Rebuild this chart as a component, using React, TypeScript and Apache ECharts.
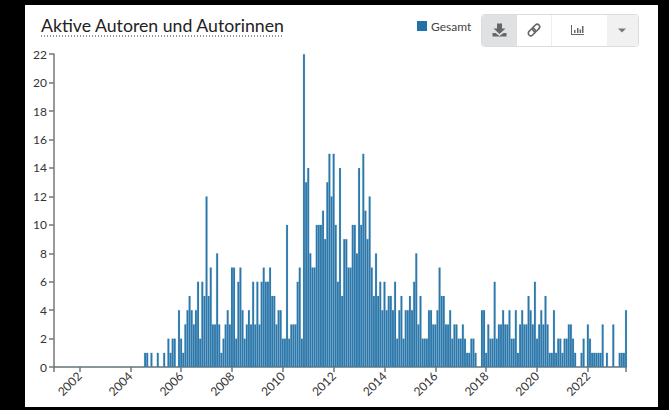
import React, { useEffect, useRef } from "react";
import * as echarts from "echarts";

const TITLE = "Aktive Autoren und Autorinnen";
const SERIES_NAME = "Gesamt";
const FIRST_YEAR = 2001;

const y2001 = [0,0,0,0,0,0,0,0,0,0,0,0];
const y2002 = [0,0,0,0,0,0,0,0,0,0,0,0];
const y2003 = [0,0,0,0,0,0,0,0,0,0,0,0];
const y2004 = [0,0,0,0,0,0,0,1,1,0,1,0];
const y2005 = [0,1,0,0,1,0,2,1,2,2,0,4];
const y2006 = [2,1,3,4,5,4,3,4,6,2,6,5];
const y2007 = [12,5,7,3,3,8,3,1,2,3,4,3];
const y2008 = [7,7,2,6,7,4,2,3,4,3,6,3];
const y2009 = [6,3,6,7,6,6,7,5,5,3,4,4];
const y2010 = [2,2,10,2,3,3,3,6,7,2,22,13];
const y2011 = [14,8,7,7,10,10,10,11,9,13,15,12];
const y2012 = [15,10,6,14,5,9,9,7,7,10,10,8];
const y2013 = [14,10,15,11,9,12,7,5,8,5,6,4];
const y2014 = [6,4,5,5,4,6,2,4,5,2,4,4];
const y2015 = [5,4,6,8,3,5,2,2,2,4,4,3];
const y2016 = [3,4,7,5,5,3,3,4,2,3,3,2];
const y2017 = [2,3,2,1,1,2,2,1,0,0,4,4];
const y2018 = [1,3,2,2,6,2,3,3,4,3,3,4];
const y2019 = [2,2,4,1,3,4,3,3,5,4,3,6];
const y2020 = [2,3,4,3,5,3,1,1,4,1,2,2];
const y2021 = [1,2,2,3,3,2,1,0,0,1,2,0];
const y2022 = [3,2,1,1,1,1,1,3,0,1,0,0];
const y2023 = [3,0,0,1,1,1,4];

const values = [
  ...y2001, ...y2002, ...y2003, ...y2004, ...y2005, ...y2006, ...y2007, ...y2008,
  ...y2009, ...y2010, ...y2011, ...y2012, ...y2013, ...y2014, ...y2015, ...y2016,
  ...y2017, ...y2018, ...y2019, ...y2020, ...y2021, ...y2022, ...y2023,
];
const months = values.map((_, i) => {
  const y = FIRST_YEAR + Math.floor(i / 12);
  const m = (i % 12) + 1;
  return `${y}-${m < 10 ? "0" + m : m}`;
});

const FONT = "Lato";

const isEvenJanuary = (i: number) => i % 12 === 0 && (FIRST_YEAR + i / 12) % 2 === 0;

echarts.graphic.registerShape(
  "icoDownload",
  echarts.graphic.extendPath(
    "M4.5 0L9.5 0L9.5 5L13 5L7 10.5L1 5L4.5 5ZM0 9.5L3 9.5L7 12.5L11 9.5L14 9.5L14 13L0 13Z",
    {}
  ) as any
);
echarts.graphic.registerShape(
  "icoBars",
  echarts.graphic.extendPath(
    "M0 0H1V9H13V10H0ZM3 5H4.5V8H3ZM6 3H7.5V8H6ZM8.6 4.5H10.1V8H8.6ZM11 1H12.5V8H11Z",
    {}
  ) as any
);

export default function App() {
  const ref = useRef<HTMLDivElement>(null);
  useEffect(() => {
    const chart = echarts.init(ref.current!, undefined, { renderer: "svg" });
    chart.setOption({
      animation: false,
      backgroundColor: "#000",
      grid: { left: 54, right: 43, top: 54.2, bottom: 43, containLabel: false },
      legend: {
        data: [SERIES_NAME],
        left: 417,
        top: 20,
        padding: 0,
        icon: "rect",
        itemWidth: 10,
        itemHeight: 10,
        itemGap: 3,
        itemStyle: { borderWidth: 0, color: "#2272a8" },
        textStyle: { fontFamily: FONT, fontSize: 12, color: "#444", padding: [0, 0, 0, -1] },
      },
      xAxis: {
        type: "category",
        data: months,
        boundaryGap: false,
        axisLine: { lineStyle: { color: "#777", width: 1.5 } },
        axisTick: {
          length: 5,
          interval: (i: number) => isEvenJanuary(i) || i === 0 || i === values.length - 1,
          lineStyle: { color: "#777", width: 1.5 },
        },
        axisLabel: {
          interval: (i: number) => isEvenJanuary(i),
          rotate: 45,
          margin: 7,
          fontFamily: FONT,
          fontSize: 12,
          color: "#333",
          formatter: (v: string) => v.slice(0, 4),
        },
        splitLine: { show: false },
      },
      yAxis: {
        type: "value",
        min: 0,
        max: 22,
        interval: 2,
        axisLine: { show: true, lineStyle: { color: "#777", width: 1.5 } },
        axisTick: { show: true, length: 5, lineStyle: { color: "#777", width: 1.5 } },
        axisLabel: { margin: 7, fontFamily: FONT, fontSize: 12, color: "#333" },
        splitLine: { show: false },
      },
      series: [
        {
          name: SERIES_NAME,
          type: "bar",
          data: values,
          barWidth: 2.12,
          clip: false,
          itemStyle: { color: "#2e78ab", borderColor: "rgba(60,135,185,0.55)", borderWidth: 0.25 },
        },
      ],
      graphic: [
        { type: "rect", z: -10, silent: true, shape: { x: 25, y: 5, width: 633, height: 402 }, style: { fill: "#fff" } },
        { type: "text", x: 41, y: 16, style: { text: TITLE, font: `17.7px ${FONT}`, fill: "#222" } },
        { type: "line", shape: { x1: 41, y1: 36, x2: 283, y2: 36 }, style: { stroke: "#333", lineWidth: 1, lineDash: [1, 2] } },
        { type: "rect", shape: { x: 481.5, y: 14.5, width: 157, height: 32, r: 3 }, style: { fill: "#fff", stroke: "#dcdcdc", lineWidth: 1 } },
        { type: "rect", shape: { x: 482, y: 15, width: 35, height: 31, r: [3, 0, 0, 3] }, style: { fill: "#e0e1e2" } },
        { type: "rect", shape: { x: 607, y: 15, width: 31, height: 31, r: [0, 3, 3, 0] }, style: { fill: "#f1f1f1" } },
        { type: "line", shape: { x1: 551.5, y1: 15, x2: 551.5, y2: 46 }, style: { stroke: "#eee", lineWidth: 1 } },
        { type: "icoDownload", x: 492.5, y: 23.5, style: { fill: "#666" } },
        {
          type: "group",
          x: 534,
          y: 30,
          rotation: Math.PI / 4,
          children: [
            { type: "rect", shape: { x: -7, y: -2.5, width: 8, height: 5, r: 2.5 }, style: { fill: "none", stroke: "#666", lineWidth: 1.6 } },
            { type: "rect", shape: { x: -1, y: -2.5, width: 8, height: 5, r: 2.5 }, style: { fill: "none", stroke: "#666", lineWidth: 1.6 } },
          ],
        },
        { type: "icoBars", x: 571, y: 25, style: { fill: "#666" } },
        { type: "polygon", shape: { points: [[618, 28.5], [626, 28.5], [622, 32.5]] }, style: { fill: "#777" } },
      ],
    });
    return () => chart.dispose();
  }, []);
  return <div ref={ref} style={{ position: "fixed", left: 0, top: 0, width: 669, height: 410 }} />;
}
